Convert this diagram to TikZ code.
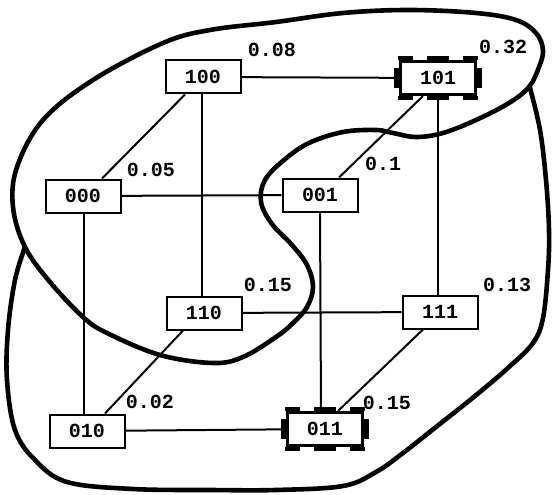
\documentclass[tikz,border=0pt]{standalone}
\usepackage{fontspec}
\newfontfamily\tw{Liberation Mono}
\usetikzlibrary{calc}
\tikzset{
  bx/.style={draw, line width=2pt, fill=white, minimum width=75pt, minimum height=33pt, inner sep=0pt, font=\tw\bfseries\fontsize{20}{20}\selectfont},
  tbx/.style={bx, line width=3pt},
  lab/.style={inner sep=0pt, font=\tw\bfseries\fontsize{20}{20}\selectfont},
  edge/.style={line width=2pt},
  blob/.style={line width=4.6pt, line cap=round, line join=round}
}
\newcommand\tabsfor[1]{%
  \fill ($(#1.north west)+(-1,-4)$) rectangle ($(#1.north west)+(14,0)$);
  \fill ($(#1.north)+(-11,-4)$) rectangle ($(#1.north)+(11,0)$);
  \fill ($(#1.north east)+(-14,-4)$) rectangle ($(#1.north east)+(1,0)$);
  \fill ($(#1.south west)+(-1,4)$) rectangle ($(#1.south west)+(14,0)$);
  \fill ($(#1.south)+(-11,4)$) rectangle ($(#1.south)+(11,0)$);
  \fill ($(#1.south east)+(-14,4)$) rectangle ($(#1.south east)+(1,0)$);
  \fill ($(#1.west)+(-5,-10)$) rectangle ($(#1.west)+(0,10)$);
  \fill ($(#1.east)+(0,-10)$) rectangle ($(#1.east)+(5,10)$);
}
\begin{document}
\begin{tikzpicture}[x=1pt,y=-1pt]
\useasboundingbox (0,0) rectangle (552,495);
% blobs
\draw[blob] plot[smooth cycle, tension=0.6] coordinates {
 (276,22) (343,13) (409,10) (476,13) (516,20) (536,33) (543,50) (539,67) (529,87)
 (509,103) (476,120) (443,133) (416,137) (393,133) (376,130) (343,132) (309,143)
 (284,160) (265,180) (261,202) (272,224) (292,245) (307,265) (313,287) (307,307)
 (293,323) (276,337) (243,357) (213,363) (160,355) (107,333) (83,317) (50,282)
 (25,247) (13,207) (17,167) (43,120) (93,80) (163,43) (210,30)};
\coordinate (bs) at (25,247);
\coordinate (be) at (530,88);
\draw[blob] plot[smooth, tension=0.6] coordinates {
 (bs) (15,280) (8,330) (7,380) (15,430) (35,460) (67,482) (133,489) (210,490)
 (276,490) (343,486) (376,472) (403,453) (436,427) (475,396) (509,367) (533,343)
 (543,318) (548,270) (549,230) (546,180) (540,130) (be)};
% nodes
\node[bx]  (n100) at (203,77)  {100};
\node[tbx] (n101) at (438,78)  {101};
\node[bx]  (n000) at (83,196)  {000};
\node[bx]  (n001) at (320,195) {001};
\node[bx]  (n110) at (204,313) {110};
\node[bx]  (n111) at (440,312) {111};
\node[bx]  (n010) at (87,431)  {010};
\node[tbx] (n011) at (325,429) {011};
\tabsfor{n101}
\tabsfor{n011}
% edges
\draw[edge] (n100) -- (n101);
\draw[edge] (n000) -- (n001);
\draw[edge] (n110) -- (n111);
\draw[edge] (n010) -- (n011);
\draw[edge] ($(n100.south)+(-1,0)$) -- ($(n110.north)+(-2,0)$);
\draw[edge] (n101.south) -- ($(n111.north)+(-2,0)$);
\draw[edge] ($(n000.south)+(1,0)$) -- ($(n010.north)+(-3,0)$);
\draw[edge] (n001.south) -- ($(n011.north)+(-4,0)$);
\draw[edge] ($(n100.south)+(-18,0)$) -- ($(n000.north)+(19,0)$);
\draw[edge] ($(n101.south)+(-15,0)$) -- ($(n001.north)+(19,0)$);
\draw[edge] ($(n110.south)+(-21,0)$) -- ($(n010.north)+(18,0)$);
\draw[edge] ($(n111.south)+(-17,0)$) -- ($(n011.north)+(13,0)$);
% labels
\node[lab] (l100) at (272,50)  {0.08};
\node[lab] (l101) at (503,47)  {0.32};
\node[lab] (l000) at (151,170) {0.05};
\node[lab] (l001) at (383,164) {0.1};
\node[lab] (l110) at (268,285) {0.15};
\node[lab] (l111) at (507,285) {0.13};
\node[lab] (l010) at (150,402) {0.02};
\node[lab] (l011) at (387,403) {0.15};
\end{tikzpicture}
\end{document}
